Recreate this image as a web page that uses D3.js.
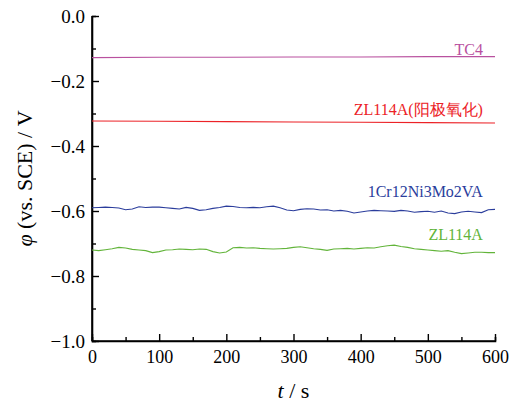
<!DOCTYPE html>
<html>
<head>
<meta charset="utf-8">
<script src="https://cdn.jsdelivr.net/npm/d3@7"></script>
</head>
<body style="margin:0">
<div id="chart-area"></div>
<script>
const FONT = "Times New Roman"

// time axis in seconds
const times = d3.range(0, 601, 10)
const tc4Times = [0, 100, 200, 300, 400, 500, 600]

// potentials (V vs. SCE)
const tc4 = [-0.128, -0.127, -0.127, -0.126, -0.126, -0.125, -0.125]
const zlAnod = [-0.323, -0.324, -0.325, -0.326, -0.327, -0.328, -0.329]
const crNi = [-0.590, -0.589, -0.588, -0.589, -0.591, -0.596, -0.594, -0.587, -0.589, -0.588,
  -0.588, -0.590, -0.592, -0.594, -0.589, -0.592, -0.598, -0.596, -0.592, -0.589,
  -0.585, -0.586, -0.589, -0.590, -0.589, -0.590, -0.587, -0.585, -0.590, -0.597,
  -0.599, -0.595, -0.593, -0.594, -0.597, -0.596, -0.600, -0.598, -0.601, -0.606,
  -0.603, -0.600, -0.598, -0.599, -0.600, -0.601, -0.598, -0.600, -0.604, -0.602,
  -0.601, -0.604, -0.600, -0.606, -0.608, -0.603, -0.601, -0.603, -0.605, -0.596, -0.595]
const zl114 = [-0.720, -0.722, -0.719, -0.716, -0.712, -0.714, -0.718, -0.720, -0.722, -0.728,
  -0.725, -0.720, -0.719, -0.717, -0.718, -0.719, -0.717, -0.718, -0.725, -0.729,
  -0.726, -0.713, -0.712, -0.714, -0.713, -0.715, -0.716, -0.717, -0.716, -0.715,
  -0.712, -0.710, -0.713, -0.716, -0.718, -0.721, -0.717, -0.716, -0.715, -0.717,
  -0.715, -0.713, -0.714, -0.710, -0.707, -0.705, -0.709, -0.712, -0.716, -0.718,
  -0.720, -0.722, -0.724, -0.722, -0.727, -0.731, -0.729, -0.727, -0.727, -0.728, -0.728]

const xTicks = [0, 100, 200, 300, 400, 500, 600]
const yTicks = [0.0, -0.2, -0.4, -0.6, -0.8, -1.0]

const series = [
  { name: "TC4", t: tc4Times, v: tc4, color: "#b9519f", labelY: -0.12 },
  { name: "ZL114A(阳极氧化)", t: tc4Times, v: zlAnod, color: "#ec2227", labelY: -0.305 },
  { name: "1Cr12Ni3Mo2VA", t: times, v: crNi, color: "#2b3d9c", labelY: -0.558 },
  { name: "ZL114A", t: times, v: zl114, color: "#62b43a", labelY: -0.69 }
]

const W = 509, H = 403
const MARGIN = { LEFT: 92, RIGHT: 14, TOP: 16, BOTTOM: 62 }
const WIDTH = W - MARGIN.LEFT - MARGIN.RIGHT
const HEIGHT = H - MARGIN.TOP - MARGIN.BOTTOM

const svg = d3.select("#chart-area").append("svg")
  .attr("width", W)
  .attr("height", H)
  .attr("font-family", FONT)

const g = svg.append("g")
  .attr("transform", `translate(${MARGIN.LEFT}, ${MARGIN.TOP})`)

const x = d3.scaleLinear().domain([0, 600]).range([0, WIDTH])
const y = d3.scaleLinear().domain([-1.0, 0.0]).range([HEIGHT, 0])

const line = d3.line()
  .x(d => x(d[0]))
  .y(d => y(d[1]))

// minor ticks
const xMinor = d3.axisBottom(x).tickValues(d3.range(50, 600, 100)).tickSize(-4).tickFormat("")
const yMinor = d3.axisLeft(y).tickValues(d3.range(-0.9, 0, 0.2)).tickSize(-4).tickFormat("")
g.append("g").attr("transform", `translate(0, ${HEIGHT})`).call(xMinor)
g.append("g").call(yMinor)

// major axes
const xAxis = g.append("g")
  .attr("transform", `translate(0, ${HEIGHT})`)
  .call(d3.axisBottom(x).tickValues(xTicks).tickSize(-7).tickPadding(9).tickFormat(d3.format("d")))
const yAxis = g.append("g")
  .call(d3.axisLeft(y).tickValues(yTicks).tickSize(-7).tickPadding(7).tickFormat(d3.format(".1f")))

g.selectAll("g").attr("font-family", FONT)
svg.selectAll(".domain").attr("stroke", "#000").attr("stroke-width", 1.6)
svg.selectAll(".tick line").attr("stroke", "#000").attr("stroke-width", 1.4)
xAxis.selectAll(".tick text")
  .attr("font-size", 18).attr("fill", "#000")
yAxis.selectAll(".tick text")
  .attr("font-size", 19).attr("fill", "#000")
xAxis.select(".domain").attr("d", `M0,0H${WIDTH}`)
yAxis.select(".domain").attr("d", `M0,${HEIGHT}V0`)

series.forEach(s => {
  g.append("path")
    .attr("fill", "none")
    .attr("stroke", s.color)
    .attr("stroke-width", 1.1)
    .attr("d", line(s.t.map((t, i) => [t, s.v[i]])))
  g.append("text")
    .attr("x", x(582))
    .attr("y", y(s.labelY))
    .attr("text-anchor", "end")
    .attr("fill", s.color)
    .attr("font-size", 16)
    .text(s.name)
})

// axis titles
const xt = svg.append("text")
  .attr("x", MARGIN.LEFT + WIDTH / 2)
  .attr("y", 398)
  .attr("text-anchor", "middle")
  .attr("font-size", 22)
xt.append("tspan").attr("font-style", "italic").text("t")
xt.append("tspan").text(" / s")

const yt = svg.append("text")
  .attr("transform", `translate(32, ${MARGIN.TOP + HEIGHT / 2}) rotate(-90)`)
  .attr("text-anchor", "middle")
  .attr("font-size", 22)
yt.append("tspan").attr("font-style", "italic").text("φ")
yt.append("tspan").text(" (vs. SCE) / V")
</script>
</body>
</html>
